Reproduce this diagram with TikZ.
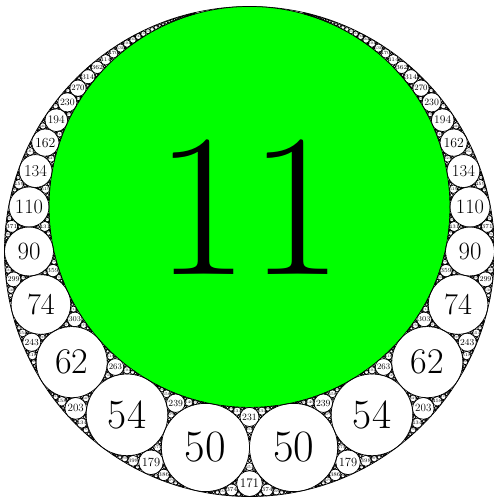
\documentclass[tikz,border=0pt]{standalone}
\tikzset{
  circ/.style={draw=black, line width=0.7bp},
  lab/.style={inner sep=0pt, text=black},
}
\newcommand\ApR{245}
\newcommand\ApCx{249.5}
\newcommand\ApCy{245.5}
\newcommand\ApKmax{3200}
\newcommand\ApLmax{1300}
\def\apget#1,#2,#3\relax#4{\expandafter\edef\csname k#4\endcsname{#1}%
  \expandafter\edef\csname x#4\endcsname{#2}%
  \expandafter\edef\csname y#4\endcsname{#3}}
\newcommand\apodraw[3]{%
  \pgfmathsetmacro\ax{\ApCx+\ApR*(#2/#1)}%
  \pgfmathsetmacro\ay{\ApCy+\ApR*(#3/#1)}%
  \pgfmathsetmacro\ar{2205/#1}%
  \draw[circ] (\ax,\ay) circle[radius=\ar];
  \ifnum#1<\ApLmax\relax
    \pgfmathsetmacro\fs{1.02*\ar}%
    \node[lab] at (\ax,\ay) {\fontsize{\fs}{\fs}\selectfont #1};%
  \fi
}
\def\apo#1#2#3#4{%
  \begingroup
  \apget#1\relax{a}\apget#2\relax{b}\apget#3\relax{c}\apget#4\relax{d}%
  \edef\kn{\the\numexpr 2*(\ka+\kb+\kc)-\kd\relax}%
  \edef\xn{\the\numexpr 2*(\xa+\xb+\xc)-\xd\relax}%
  \edef\yn{\the\numexpr 2*(\ya+\yb+\yc)-\yd\relax}%
  \ifnum\kn>\ApKmax\relax\else
    \apodraw{\kn}{\xn}{\yn}%
    \edef\next{%
      \noexpand\apo{\ka,\xa,\ya}{\kb,\xb,\yb}{\kn,\xn,\yn}{\kc,\xc,\yc}%
      \noexpand\apo{\ka,\xa,\ya}{\kc,\xc,\yc}{\kn,\xn,\yn}{\kb,\xb,\yb}%
      \noexpand\apo{\kb,\xb,\yb}{\kc,\xc,\yc}{\kn,\xn,\yn}{\ka,\xa,\ya}}%
    \next
  \fi
  \endgroup
}
\begin{document}
\begin{tikzpicture}[x=1bp,y=1bp]
  \useasboundingbox (0,0) rectangle (494,497);
  \node[circle, draw=black, line width=0.7bp, minimum size=490bp, inner sep=0pt] (outer) at (\ApCx,\ApCy) {};
  \pgfmathsetmacro\gy{\ApCy+\ApR*2/11}
  \node[circle, draw=black, fill=green, line width=0.7bp, minimum size=400.909bp, inner sep=0pt] (green) at (\ApCx,\gy) {\fontsize{204.5}{204.5}\selectfont 11};
  \apodraw{50}{9}{-40}
  \apodraw{50}{-9}{-40}
  \apo{-9,0,0}{11,0,2}{50,9,-40}{50,-9,-40}
  \apo{-9,0,0}{11,0,2}{50,-9,-40}{50,9,-40}
  \apo{-9,0,0}{50,9,-40}{50,-9,-40}{11,0,2}
  \apo{11,0,2}{50,9,-40}{50,-9,-40}{-9,0,0}
\end{tikzpicture}
\end{document}
